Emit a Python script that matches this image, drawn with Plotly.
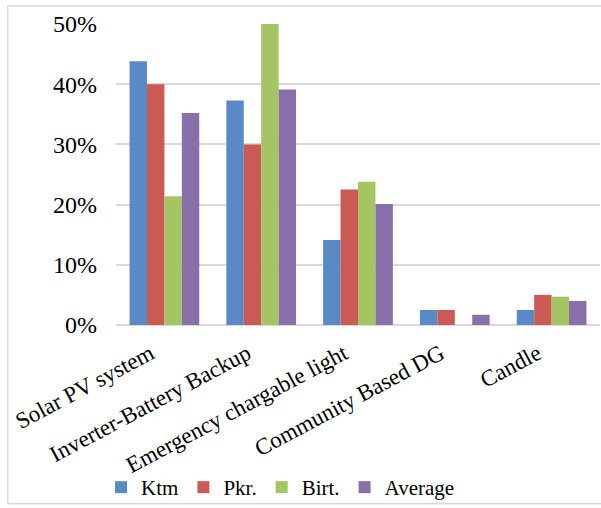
import plotly.graph_objects as go

categories = ["Solar PV system", "Inverter-Battery Backup", "Emergency chargable light",
              "Community Based DG", "Candle"]
ktm = [0.438, 0.373, 0.141, 0.025, 0.025]
pkr = [0.400, 0.300, 0.225, 0.025, 0.050]
birt = [0.214, 0.500, 0.238, 0.000, 0.047]
average = [0.352, 0.391, 0.201, 0.017, 0.040]

series = [("Ktm", ktm, "#5A8AC6"), ("Pkr.", pkr, "#CB5A55"),
          ("Birt.", birt, "#A5C463"), ("Average", average, "#8A70AA")]

FONT = "Liberation Serif, Times New Roman, serif"

fig = go.Figure()
for name, vals, color in series:
    fig.add_trace(go.Bar(x=categories, y=vals, name=name,
                         marker=dict(color=color, line=dict(width=0))))

fig.update_layout(
    width=601, height=508,
    margin=dict(l=115.5, r=0.5, t=24, b=182),
    paper_bgcolor="white", plot_bgcolor="white",
    barmode="group", bargap=0.28, bargroupgap=0,
    font=dict(family=FONT, size=22, color="#000000"),
    showlegend=True,
    legend=dict(orientation="h", x=0.34, xanchor="center", y=-0.536, yanchor="middle",
                font=dict(family=FONT, size=21), itemwidth=30,
                bgcolor="rgba(0,0,0,0)", traceorder="normal"),
    shapes=[dict(type="rect", xref="paper", yref="paper",
                 x0=-0.2237, x1=1.06, y0=-0.593, y1=1.0596,
                 line=dict(color="#D9D9D9", width=1.5), layer="below")],
)
fig.update_xaxes(tickangle=-28, tickfont=dict(family=FONT, size=23),
                 showline=False, ticks="", showgrid=False,
                 ticklabelshift=-14, ticklabelstandoff=10)
fig.update_yaxes(range=[0, 0.5], dtick=0.1, tickformat=".0%",
                 tickfont=dict(family=FONT, size=24),
                 showgrid=True, gridcolor="#D9D9D9", gridwidth=2,
                 zeroline=True, zerolinecolor="#D9D9D9", zerolinewidth=2,
                 showline=False, ticks="", ticklabelstandoff=18)

fig.write_html("out.html")
